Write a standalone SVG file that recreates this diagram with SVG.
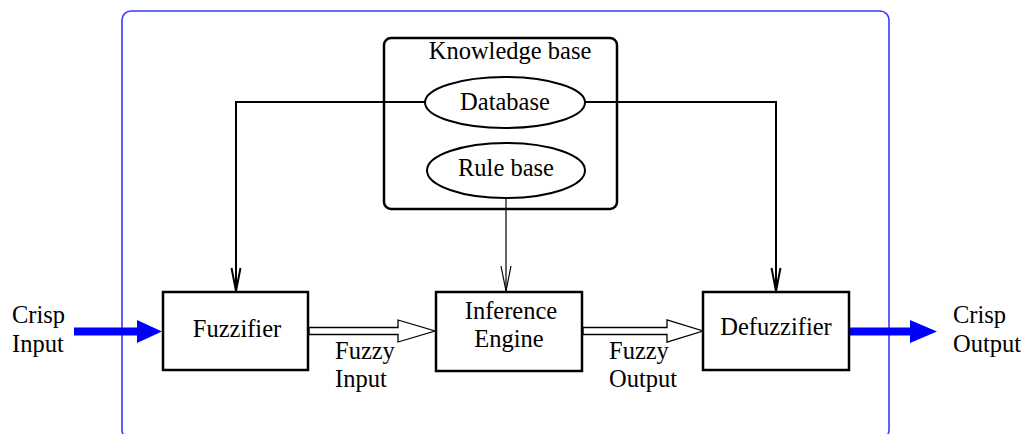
<svg xmlns="http://www.w3.org/2000/svg" width="1021" height="434" viewBox="0 0 1021 434">
<style>
text{font-family:"Liberation Serif","Times New Roman",serif;font-size:24.5px;fill:#000}
.box{fill:#fff;stroke:#000;stroke-width:2.5}
.ell{fill:#fff;stroke:#000;stroke-width:2}
.con{fill:none;stroke:#000;stroke-width:2}
.thin{fill:none;stroke:#000;stroke-width:1.2}
.hollow{fill:#fff;stroke:#000;stroke-width:1.3}
.blue{fill:#0000ff;stroke:none}
</style>
<rect id="frame" x="122" y="11" width="767" height="428" rx="9" fill="none" stroke="#3a3aff" stroke-width="1.6"/>
<g id="knowledge-base">
<rect class="box" x="384" y="38" width="233" height="171" rx="7"/>
<text x="510" y="59" text-anchor="middle">Knowledge base</text>
</g>
<g id="connectors">
<polyline class="con" points="425,102 236,102 236,291"/>
<polyline class="con" points="231.5,268 236,291 240.5,268"/>
<polyline class="con" points="585,102 776,102 776,291"/>
<polyline class="con" points="771.5,268 776,291 780.5,268"/>
<line class="thin" x1="506" y1="198" x2="506" y2="291"/>
<polyline class="thin" points="501,266 506,291 511,266"/>
<polygon class="blue" points="74,327.5 137,327.5 137,320 162,331.5 137,343 137,335.5 74,335.5"/>
<polygon class="blue" points="849,327.5 910,327.5 910,320 937,331.5 910,343 910,335.5 849,335.5"/>
<polygon class="hollow" points="309,327.5 398,327.5 398,320 435,331 398,342 398,334.5 309,334.5"/>
<polygon class="hollow" points="583,327.5 667,327.5 667,320 703,331 667,342 667,334.5 583,334.5"/>
</g>
<g id="database">
<ellipse class="ell" cx="505" cy="102.5" rx="80" ry="25.5"/>
<text x="505" y="110" text-anchor="middle">Database</text>
</g>
<g id="rule-base">
<ellipse class="ell" cx="506" cy="170.5" rx="79" ry="27.5"/>
<text x="506" y="176" text-anchor="middle">Rule base</text>
</g>
<g id="fuzzifier">
<rect class="box" x="163" y="292" width="145" height="78"/>
<text x="237" y="337" text-anchor="middle">Fuzzifier</text>
</g>
<g id="inference-engine">
<rect class="box" x="436" y="292" width="146" height="79"/>
<text x="511" y="319" text-anchor="middle">Inference</text>
<text x="509" y="347" text-anchor="middle">Engine</text>
</g>
<g id="defuzzifier">
<rect class="box" x="703" y="292" width="146" height="78"/>
<text x="776" y="335" text-anchor="middle">Defuzzifier</text>
</g>
<g id="labels">
<text x="12" y="323">Crisp</text>
<text x="12" y="352">Input</text>
<text x="335" y="359">Fuzzy</text>
<text x="335" y="387">Input</text>
<text x="609" y="359">Fuzzy</text>
<text x="609" y="387">Output</text>
<text x="953" y="323">Crisp</text>
<text x="953" y="352">Output</text>
</g>
</svg>
